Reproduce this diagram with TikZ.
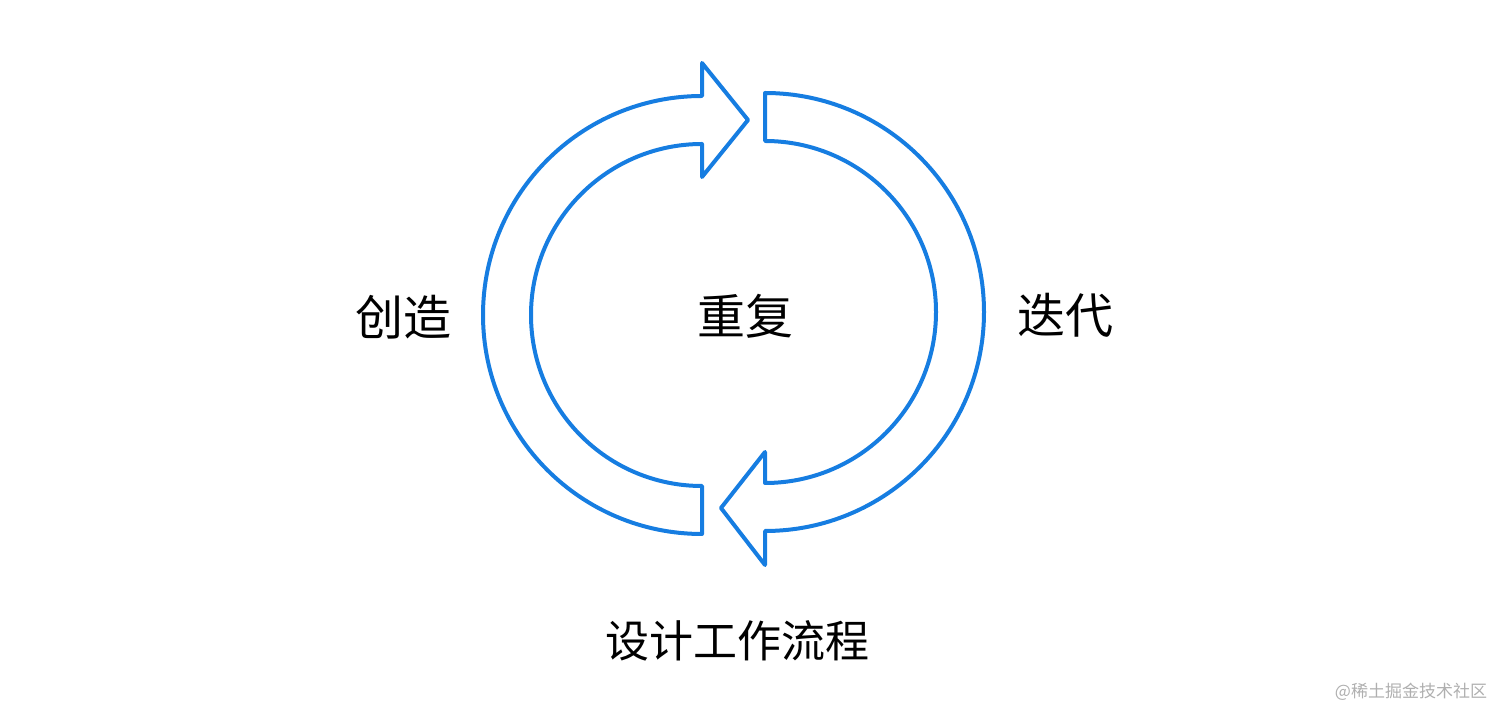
\documentclass[tikz,border=0pt]{standalone}
\usepackage{fontspec}
\newfontfamily\cjk{Noto Sans CJK SC}
\usetikzlibrary{positioning}
\definecolor{loopblue}{RGB}{22, 125, 225}
\definecolor{markgray}{RGB}{175, 175, 175}

\begin{document}
\begin{tikzpicture}[x=1pt, y=1pt]
                \useasboundingbox (0,0) rectangle (1512,720);
                \tikzset{
                    loop arrow/.style={draw=loopblue, line width=4pt, line join=round},
                    big label/.style={font=\cjk\fontsize{48}{48}\selectfont},
                    flow label/.style={font=\cjk\fontsize{44}{44}\selectfont}
                }

                % Left arrow (pointing right at the top)
                \draw[loop arrow] (702,234) arc (-90:-270:171) -- (702,543) -- (748,600)
                    -- (702,657) -- (702,624) arc (90:270:219) -- cycle;

                % Right arrow (pointing left at the bottom)
                \draw[loop arrow] (765,579) -- (765,627) arc (90:-90:219) -- (765,155)
                    -- (721,212) -- (765,268) -- (765,237) arc (-90:90:171) -- cycle;

                % Labels
                \node[big label] (repeat) at (745,404) {重复};
                \node[big label] (create) at (403,403) {创造};
                \node[big label] (iterate) at (1065,405) {迭代};
                \node[flow label] (flow) at (737,79) {设计工作流程};

                % Watermark
                \node[font=\cjk\fontsize{17}{17}\selectfont, text=markgray] (mark) at (1411,28) {@稀土掘金技术社区};
            \end{tikzpicture}
\end{document}
